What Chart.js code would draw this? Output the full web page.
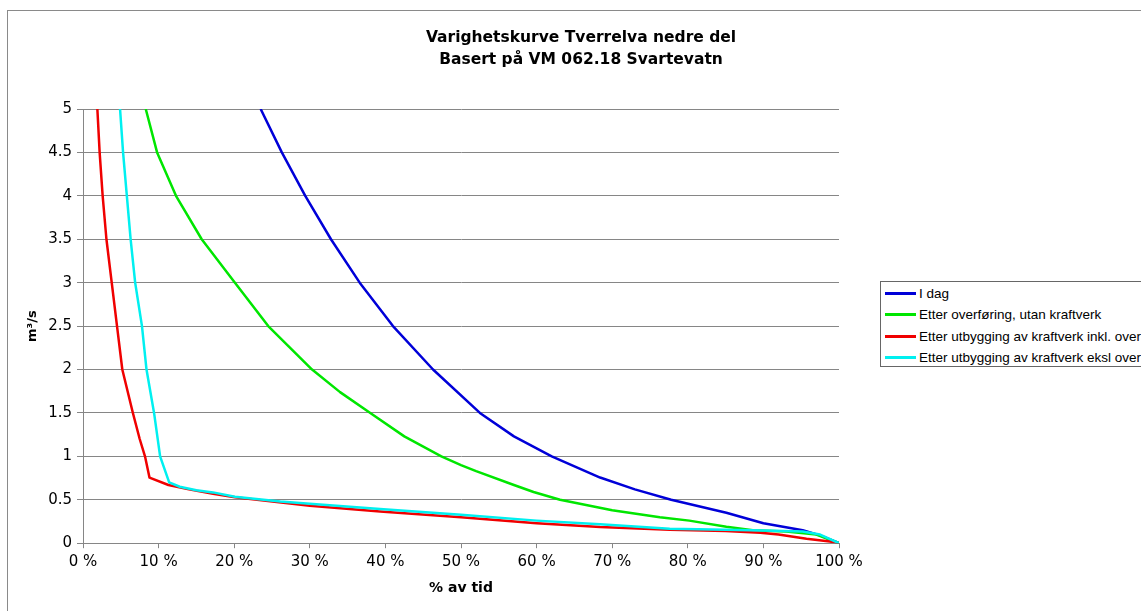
<!DOCTYPE html>
<html>
<head>
<meta charset="utf-8">
<title>Varighetskurve Tverrelva nedre del</title>
<script src="https://cdn.jsdelivr.net/npm/chart.js@4"></script>
<style>
  body { margin: 0; width: 1141px; height: 611px; overflow: hidden; background: #fff; position: relative; }
  .chart-frame { position: absolute; left: 7px; top: 10px; width: 1200px; height: 700px; border: 1px solid #8a8a8a; }
  #duration-chart { position: absolute; left: 0; top: 0; }
  #chart__legend { position: absolute; left: 880px; top: 281px; width: 300px; height: 84px; border: 1px solid #666; background: #fff; }
  .chart__legend { list-style: none; }
  .legend__list-item { display: flex; align-items: center; height: 21.3px; white-space: nowrap; cursor: pointer; }
  .legend-item__icon { display: inline-block; width: 31px; height: 3px; margin: 0 3px 0 4px; }
  .legend-item__text { margin: 0; font: 13.5px 'Liberation Sans', Arial, sans-serif; color: #000; }
</style>
</head>
<body>
<div class="chart-frame"></div>
<canvas id="duration-chart" width="1155" height="611"></canvas>
<div id="chart__legend"></div>
<script>
// % av tid / m3/s
const idagTime = [23.5, 26.3, 29.4, 32.8, 36.6, 41.0, 46.3, 52.5, 57, 62.0, 68.4, 73, 77.8, 85.1, 90.0, 95.2, 97.5, 100];
const idagFlow = [5, 4.5, 4, 3.5, 3, 2.5, 2, 1.5, 1.23, 1.0, 0.756, 0.62, 0.5, 0.35, 0.23, 0.15, 0.09, 0];

const overforingTime = [8.3, 9.8, 12.3, 15.7, 20.1, 24.5, 30.3, 34, 38.0, 42.5, 47.4, 50, 52, 57, 59.6, 63.1, 70, 76.3, 80.2, 85.1, 88.6, 93, 97, 100];
const overforingFlow = [5, 4.5, 4, 3.5, 3, 2.5, 2, 1.74, 1.5, 1.23, 1.0, 0.9, 0.83, 0.67, 0.59, 0.5, 0.38, 0.3, 0.26, 0.19, 0.148, 0.135, 0.1, 0];

const inklTime = [1.9, 2.2, 2.6, 3.1, 3.8, 4.5, 5.2, 6.6, 7.5, 8.2, 8.8, 11.3, 14, 17.2, 20.1, 30, 39.3, 50, 60, 68.4, 77.6, 85, 89.6, 92, 95.7, 98.8, 100];
const inklFlow = [5, 4.5, 4, 3.5, 3, 2.5, 2, 1.5, 1.2, 1.0, 0.755, 0.67, 0.62, 0.57, 0.53, 0.43, 0.365, 0.30, 0.23, 0.186, 0.156, 0.14, 0.12, 0.1, 0.05, 0.02, 0];

const ekslTime = [4.9, 5.3, 5.8, 6.3, 6.9, 7.8, 8.4, 9.4, 10.2, 11.4, 12.8, 15, 17.2, 20.1, 26.1, 30, 39.3, 50, 60, 68.4, 77.6, 85, 90, 95.2, 97.5, 100];
const ekslFlow = [5, 4.5, 4, 3.5, 3, 2.5, 2, 1.5, 1.0, 0.70, 0.65, 0.61, 0.585, 0.535, 0.48, 0.455, 0.395, 0.327, 0.26, 0.217, 0.167, 0.155, 0.145, 0.135, 0.1, 0];

const seriesLabels = [
  'I dag',
  'Etter overføring, utan kraftverk',
  'Etter utbygging av kraftverk inkl. overføring',
  'Etter utbygging av kraftverk eksl overføring'
];

const toPoints = (times, flows) => times.map((t, i) => ({x: t, y: flows[i]}));

const durationChart = document.getElementById('duration-chart');
const gridGrey = '#868686';

Chart.defaults.font.family = "'DejaVu Sans', Verdana, sans-serif";
Chart.defaults.color = '#000';

const getOrCreateLegendList = (chart, id) => {
  const legendContainer = document.getElementById(id);
  let listContainer = legendContainer.querySelector('ul');

  if (!listContainer) {
    listContainer = document.createElement('ul');
    listContainer.style.display = 'flex';
    listContainer.style.flexDirection = 'column';
    listContainer.style.margin = 0;
    listContainer.style.padding = '1px 0 0 0';

    legendContainer.appendChild(listContainer);
  }

  return listContainer;
};

const htmlLegendPlugin = {
  id: 'htmlLegend',
  afterUpdate(chart, args, options) {
    const ul = getOrCreateLegendList(chart, options.containerID);
    ul.classList.add('chart__legend')

    while (ul.firstChild) {
      ul.firstChild.remove();
    }

    // keep the legend in dataset order, not draw order
    const items = chart.options.plugins.legend.labels.generateLabels(chart)
      .sort((a, b) => a.datasetIndex - b.datasetIndex);

    items.forEach(item => {
      const li = document.createElement('li');
      li.classList.add('legend__list-item');

      li.onclick = () => {
        chart.setDatasetVisibility(item.datasetIndex, !chart.isDatasetVisible(item.datasetIndex));
        chart.update();
      };

      const boxSpan = document.createElement('span');
      boxSpan.classList.add('legend-item__icon')
      boxSpan.style.background = item.strokeStyle;

      const textContainer = document.createElement('p');
      textContainer.classList.add('legend-item__text')
      textContainer.style.textDecoration = item.hidden ? 'line-through' : '';

      const text = document.createTextNode(item.text);
      textContainer.appendChild(text);

      li.appendChild(boxSpan);
      li.appendChild(textContainer);
      ul.appendChild(li);
    });
  }
};

const lineStyle = {
  borderWidth: 2.5,
  pointRadius: 0,
  tension: 0,
  borderJoinStyle: 'round',
  fill: false,
};

new Chart(durationChart, {
  type: 'line',
  data: {
    datasets: [{
      ...lineStyle,
      label: seriesLabels[0],
      data: toPoints(idagTime, idagFlow),
      borderColor: '#0000d8',
      backgroundColor: '#0000d8',
      order: 3,
    },
    {
      ...lineStyle,
      label: seriesLabels[1],
      data: toPoints(overforingTime, overforingFlow),
      borderColor: '#00e600',
      backgroundColor: '#00e600',
      order: 2,
    },
    {
      ...lineStyle,
      label: seriesLabels[2],
      data: toPoints(inklTime, inklFlow),
      borderColor: '#f00000',
      backgroundColor: '#f00000',
      order: 1,
    },
    {
      ...lineStyle,
      label: seriesLabels[3],
      data: toPoints(ekslTime, ekslFlow),
      borderColor: '#00f0f0',
      backgroundColor: '#00f0f0',
      order: 0,
    }
  ],
  },
  options: {
    responsive: false,
    animation: false,
    layout: {
      padding: {left: 7, top: 0, right: 0, bottom: 10}
    },
    scales: {
      x: {
        type: 'linear',
        min: 0,
        max: 100,
        ticks: {
          stepSize: 10,
          padding: 5,
          font: {size: 15},
          callback: value => value + ' %'
        },
        grid: {
          drawOnChartArea: false,
          tickLength: 5,
          color: gridGrey,
        },
        border: {color: gridGrey},
        title: {
          display: true,
          text: '% av tid',
          font: {size: 14, weight: 'bold'},
          padding: {top: 4, bottom: 4}
        }
      },
      y: {
        min: 0,
        max: 5,
        ticks: {
          stepSize: 0.5,
          padding: 5,
          font: {size: 15},
          callback: value => String(value)
        },
        grid: {
          color: gridGrey,
          tickLength: 6,
        },
        border: {color: gridGrey},
        title: {
          display: true,
          text: 'm³/s',
          font: {size: 13, weight: 'bold'},
          padding: {top: 18, bottom: 0}
        },
        afterFit: scale => { scale.width = 76; }
      },
      // empty box on the right so the plot stops where the legend begins
      legendSpace: {
        type: 'linear',
        position: 'right',
        grid: {display: false},
        ticks: {display: false},
        border: {display: false},
        afterFit: scale => { scale.width = 1155 - 839; }
      }
    },
    plugins: {
      title: {
        display: true,
        text: ['Varighetskurve Tverrelva nedre del', 'Basert på VM 062.18 Svartevatn'],
        font: {size: 15.5, weight: 'bold', lineHeight: 1.4},
        color: '#000',
        padding: {top: 27, bottom: 38.6}
      },
      htmlLegend: {
        containerID: 'chart__legend',
      },
      legend: {
        display: false,
      },
      tooltip: {enabled: false}
    }
  },
  plugins: [htmlLegendPlugin]
})
</script>
</body>
</html>
